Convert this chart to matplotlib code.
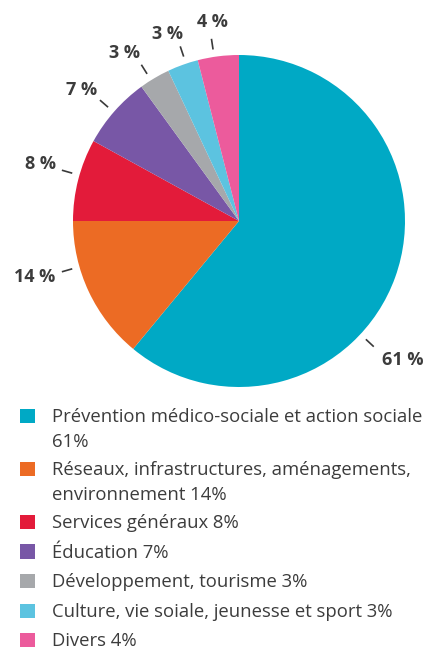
import matplotlib
matplotlib.use("Agg")
import matplotlib.pyplot as plt
from matplotlib.patches import Rectangle
import numpy as np

# ---- data ----
categories = [
    "Prévention médico-sociale et action sociale\n61%",
    "Réseaux, infrastructures, aménagements,\nenvironnement 14%",
    "Services généraux 8%",
    "Éducation 7%",
    "Développement, tourisme 3%",
    "Culture, vie soiale, jeunesse et sport 3%",
    "Divers 4%",
]
values = [61, 14, 8, 7, 3, 3, 4]
pie_labels = ["61 %", "14 %", "8 %", "7 %", "3 %", "3 %", "4 %"]
colors = ["#00A9C5", "#EC6B24", "#E31B3A", "#7857A6", "#A6A8AB", "#5CC3E0", "#EC5B9C"]

# ---- layout ----
W, H = 429, 650
DPI = 100
leader_angles = [-43, 196, 164, 139, 122, 108.6, 98.6]
text_angles = [-40.3, 195.4, 164, 140.2, 124.4, 110.8, 97.7]
text_radii = [1.295, 1.274, 1.247, 1.232, 1.226, 1.205, 1.21]
cx, cy, R = 239, 221, 166  # pie center / radius in pixels
legend_rows = [416, 469, 522, 551.5, 581, 611, 640]
text_color = "#3c3c3c"

fig = plt.figure(figsize=(W / DPI, H / DPI), dpi=DPI)

ax = fig.add_axes([(cx - R) / W, 1 - (cy + R) / H, 2 * R / W, 2 * R / H])
ax.pie(values, colors=colors, startangle=90, counterclock=False,
       wedgeprops=dict(linewidth=0))
ax.set_xlim(-1, 1)
ax.set_ylim(-1, 1)
ax.set_aspect("equal")
ax.axis("off")

for lab, la, ta, tr in zip(pie_labels, leader_angles, text_angles, text_radii):
    a = np.deg2rad(la)
    c, s = np.cos(a), np.sin(a)
    ax.plot([1.045 * c, 1.11 * c], [1.045 * s, 1.11 * s], color="#3a3a3a",
            lw=1.2, clip_on=False, solid_capstyle="butt")
    b = np.deg2rad(ta)
    ax.text(tr * np.cos(b), tr * np.sin(b), lab, ha="center", va="center",
            fontsize=13, fontweight="bold", family="Open Sans", color=text_color)

# legend in pixel coordinates
lax = fig.add_axes([0, 0, 1, 1])
lax.set_xlim(0, W)
lax.set_ylim(H, 0)
lax.axis("off")
sq = 14.5
for cat, col, y in zip(categories, colors, legend_rows):
    lax.add_patch(Rectangle((20, y - sq / 2), sq, sq, color=col, lw=0))
    for i, ln in enumerate(cat.split("\n")):
        lax.text(52, y + 1 + i * 25, ln, ha="left", va="center",
                 fontsize=13.3, family="Open Sans", color=text_color)

fig.savefig("out.png", dpi=DPI)
